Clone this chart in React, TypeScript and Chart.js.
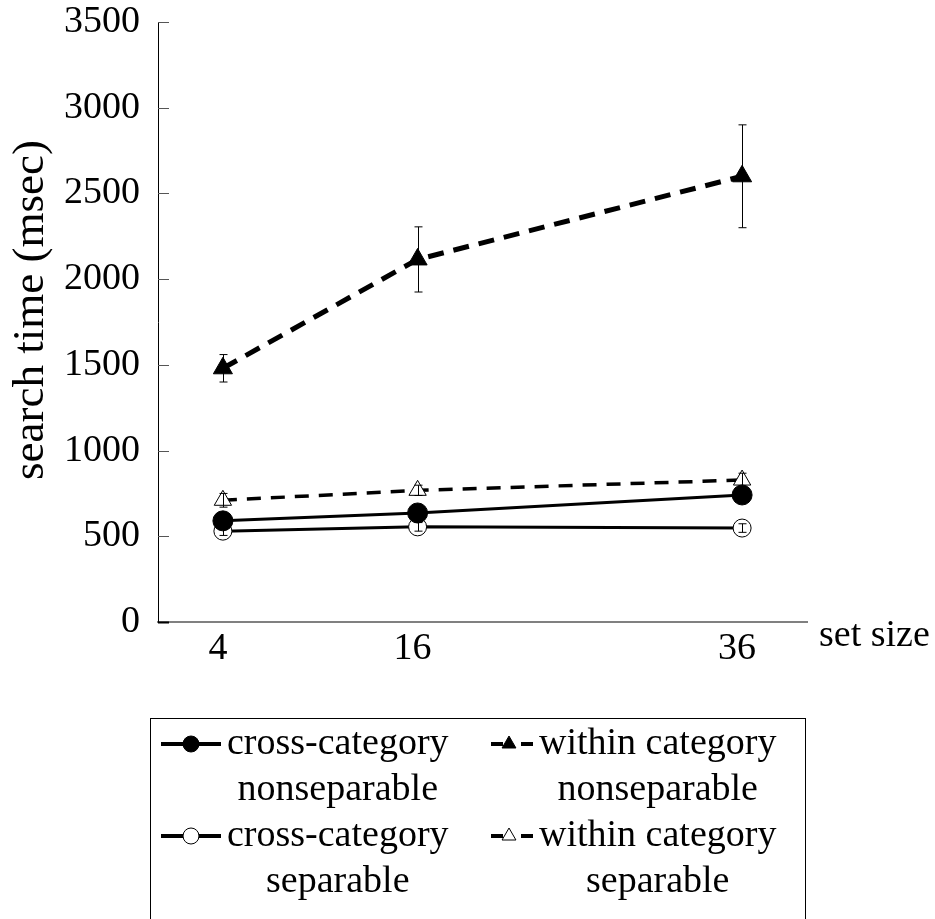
import React, { useEffect, useRef } from "react";
import { Chart, registerables } from "chart.js";

Chart.register(...registerables);

// ---- data ----
const setSizes = [4, 16, 36];
const yTickValues = [0, 500, 1000, 1500, 2000, 2500, 3000, 3500];

const crossNonsep = [590, 636, 741];
const crossNonsepErr = [20, 20, 25];
const withinNonsep = [1480, 2115, 2600];
const withinNonsepErr = [80, 190, 300];
const crossSep = [530, 555, 548];
const crossSepErr = [25, 25, 25];
const withinSep = [710, 768, 828];
const withinSepErr = [40, 30, 40];

const seriesNames = [
  ["cross-category", "nonseparable"],
  ["within category", "nonseparable"],
  ["cross-category", "separable"],
  ["within category", "separable"],
];
const yTitle = "search time (msec)";
const xTitle = "set size";

const SERIF = "'Liberation Serif', 'Times New Roman', serif";

const toPts = (vals: number[]) => vals.map((v, i) => ({ x: setSizes[i], y: v }));

function drawMarker(ctx: CanvasRenderingContext2D, style: string, x: number, y: number, r: number, fill: string) {
  ctx.save();
  ctx.beginPath();
  if (style === "circle") {
    ctx.arc(x, y, r, 0, Math.PI * 2);
  } else {
    ctx.moveTo(x, y - r);
    ctx.lineTo(x + Math.sin((2 * Math.PI) / 3) * r, y + r / 2);
    ctx.lineTo(x - Math.sin((2 * Math.PI) / 3) * r, y + r / 2);
    ctx.closePath();
  }
  ctx.fillStyle = fill;
  ctx.fill();
  ctx.lineWidth = 1;
  ctx.strokeStyle = "#000";
  ctx.stroke();
  ctx.restore();
}

export default function App() {
  const ref = useRef<HTMLCanvasElement | null>(null);

  useEffect(() => {
    if (!ref.current) return;
    const errs = [crossNonsepErr, withinNonsepErr, crossSepErr, withinSepErr];
    const vals = [crossNonsep, withinNonsep, crossSep, withinSep];

    const decor = {
      id: "decor",
      afterDatasetsDraw(chart: any) {
        const ctx = chart.ctx as CanvasRenderingContext2D;
        const xs = chart.scales.x;
        const ys = chart.scales.y;
        ctx.save();
        ctx.strokeStyle = "#000";
        ctx.lineWidth = 1;
        vals.forEach((series, i) => {
          series.forEach((v, j) => {
            const x = Math.round(xs.getPixelForValue(setSizes[j])) + 0.5;
            const yt = ys.getPixelForValue(v + errs[i][j]);
            const yb = ys.getPixelForValue(v - errs[i][j]);
            ctx.beginPath();
            ctx.moveTo(x, yt);
            ctx.lineTo(x, yb);
            ctx.moveTo(x - 4, yt);
            ctx.lineTo(x + 4, yt);
            ctx.moveTo(x - 4, yb);
            ctx.lineTo(x + 4, yb);
            ctx.stroke();
          });
        });
        ctx.restore();
      },
      afterDraw(chart: any) {
        const ctx = chart.ctx as CanvasRenderingContext2D;
        const ys = chart.scales.y;
        const area = chart.chartArea;
        // inward y ticks
        ctx.save();
        yTickValues.forEach((v) => {
          const y = Math.round(ys.getPixelForValue(v)) + 0.5;
          ctx.beginPath();
          ctx.strokeStyle = v === 0 ? "#000" : "#555";
          ctx.lineWidth = v === 0 ? 2 : 1;
          ctx.moveTo(area.left, y);
          ctx.lineTo(area.left + 11, y);
          ctx.stroke();
        });
        ctx.restore();

        // y title
        ctx.save();
        ctx.fillStyle = "#000";
        ctx.font = `45px ${SERIF}`;
        ctx.translate(31, 310);
        ctx.rotate(-Math.PI / 2);
        ctx.textAlign = "center";
        ctx.textBaseline = "middle";
        ctx.fillText(yTitle, 0, 0);
        ctx.restore();

        // x title
        ctx.save();
        ctx.fillStyle = "#000";
        ctx.font = `38px ${SERIF}`;
        ctx.textAlign = "left";
        ctx.textBaseline = "middle";
        ctx.fillText(xTitle, area.right + 12, area.bottom + 14);
        ctx.restore();

        // legend box
        const bx0 = 150, bx1 = 805, by0 = 718, by1 = 925;
        ctx.save();
        ctx.strokeStyle = "#000";
        ctx.lineWidth = 1;
        ctx.strokeRect(bx0 + 0.5, by0 + 0.5, bx1 - bx0, by1 - by0);
        ctx.restore();

        const colX = [161, 491];
        const rowY = [744, 836];
        const lineGap = 46;
        chart.data.datasets.forEach((ds: any, i: number) => {
          const col = i % 2;
          const row = Math.floor(i / 2);
          const x0 = colX[col];
          const y0 = rowY[row];
          const symW = col === 0 ? 60 : 42;
          ctx.save();
          ctx.strokeStyle = "#000";
          ctx.lineWidth = 4;
          ctx.beginPath();
          if (col === 0) {
            ctx.moveTo(x0, y0);
            ctx.lineTo(x0 + symW, y0);
          } else {
            ctx.moveTo(x0, y0);
            ctx.lineTo(x0 + 12, y0);
            ctx.moveTo(x0 + symW - 12, y0);
            ctx.lineTo(x0 + symW, y0);
          }
          ctx.stroke();
          ctx.restore();
          drawMarker(ctx, ds.pointStyle, x0 + (col === 0 ? 30 : 18), y0, 8, ds.pointBackgroundColor);
          ctx.save();
          ctx.fillStyle = "#000";
          ctx.font = `38px ${SERIF}`;
          ctx.textBaseline = "middle";
          ctx.textAlign = "left";
          const tx = x0 + symW + 6;
          const w = ctx.measureText(seriesNames[i][0]).width;
          ctx.fillText(seriesNames[i][0], tx, y0);
          ctx.textAlign = "center";
          ctx.fillText(seriesNames[i][1], tx + w / 2, y0 + lineGap);
          ctx.restore();
        });
      },
    };

    const chart = new Chart(ref.current, {
      type: "line",
      data: {
        datasets: [
          {
            label: seriesNames[0].join(" "),
            data: toPts(crossNonsep),
            borderColor: "#000",
            borderWidth: 3,
            pointStyle: "circle",
            pointRadius: 10,
            pointBackgroundColor: "#000",
            pointBorderColor: "#000",
            pointBorderWidth: 1,
          },
          {
            label: seriesNames[1].join(" "),
            data: toPts(withinNonsep),
            borderColor: "#000",
            borderWidth: 5,
            borderDash: [16, 10],
            pointStyle: "triangle",
            pointRadius: 11,
            pointBackgroundColor: "#000",
            pointBorderColor: "#000",
            pointBorderWidth: 1,
          },
          {
            label: seriesNames[2].join(" "),
            data: toPts(crossSep),
            borderColor: "#000",
            borderWidth: 3,
            pointStyle: "circle",
            pointRadius: 9,
            pointBackgroundColor: "#fff",
            pointBorderColor: "#000",
            pointBorderWidth: 1,
          },
          {
            label: seriesNames[3].join(" "),
            data: toPts(withinSep),
            borderColor: "#000",
            borderWidth: 3.5,
            borderDash: [14, 10],
            pointStyle: "triangle",
            pointRadius: 10,
            pointBackgroundColor: "#fff",
            pointBorderColor: "#000",
            pointBorderWidth: 1,
          },
        ],
      },
      options: {
        responsive: false,
        animation: false,
        layout: { padding: { left: 0, top: 22, right: 128, bottom: 247 } },
        plugins: { legend: { display: false }, tooltip: { enabled: false } },
        scales: {
          x: {
            type: "linear",
            min: 0,
            max: 40,
            afterBuildTicks: (scale: any) => {
              scale.ticks = setSizes.map((v) => ({ value: v }));
            },
            afterFit: (scale: any) => {
              scale.height = 50;
              scale.paddingLeft = 0;
              scale.paddingRight = 0;
            },
            border: { display: true, color: "#808080", width: 2 },
            grid: { display: false, drawTicks: false },
            ticks: {
              color: "#000",
              font: { family: SERIF, size: 38 },
              padding: 4,
              labelOffset: -5,
              maxRotation: 0,
              autoSkip: false,
              callback: (v: any) => String(v),
            },
          },
          y: {
            type: "linear",
            min: 0,
            max: 3500,
            afterBuildTicks: (scale: any) => {
              scale.ticks = yTickValues.map((v) => ({ value: v }));
            },
            afterFit: (scale: any) => {
              scale.width = 158;
              scale.paddingTop = 0;
              scale.paddingBottom = 0;
            },
            border: { display: true, color: "#000", width: 1 },
            grid: { display: false, drawTicks: false },
            ticks: {
              color: "#000",
              font: { family: SERIF, size: 38 },
              padding: 18,
              callback: (v: any) => String(v),
            },
          },
        },
      },
      plugins: [decor],
    } as any);

    return () => chart.destroy();
  }, []);

  return (
    <div style={{ position: "absolute", left: 0, top: 0, width: 935, height: 919, background: "#fff" }}>
      <canvas ref={ref} width={935} height={919} style={{ display: "block" }} />
    </div>
  );
}
